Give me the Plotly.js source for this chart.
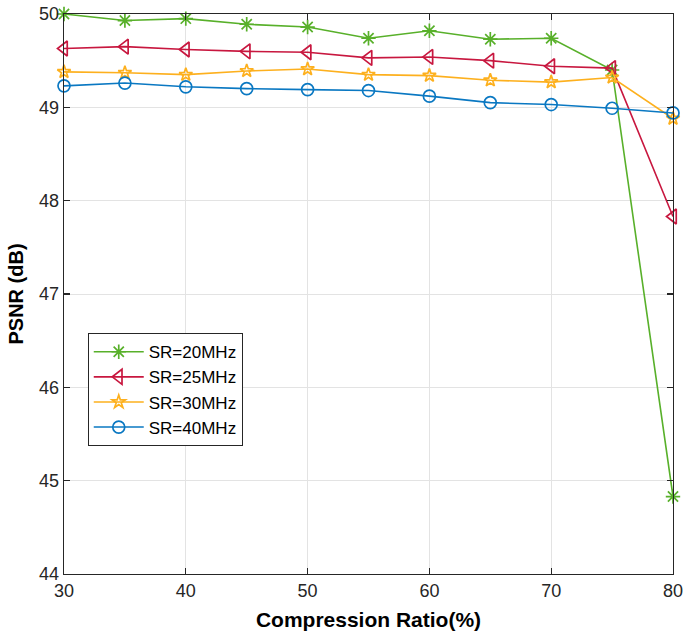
<!DOCTYPE html>
<html>
<head>
<meta charset="utf-8">
<script src="https://cdn.plot.ly/plotly-3.0.1.min.js"></script>
<style>html,body{margin:0;padding:0;background:#fff;}#chart{width:690px;height:642px;}</style>
</head>
<body>
<div id="chart"></div>
<script>
const compressionRatio = [30, 35, 40, 45, 50, 55, 60, 65, 70, 75, 80];
const sr20 = [50.00, 49.93, 49.95, 49.89, 49.86, 49.74, 49.82, 49.73, 49.74, 49.40, 44.83];
const sr25 = [49.63, 49.65, 49.62, 49.60, 49.59, 49.53, 49.54, 49.50, 49.44, 49.42, 47.83];
const sr30 = [49.38, 49.37, 49.35, 49.39, 49.41, 49.35, 49.34, 49.29, 49.27, 49.32, 48.88];
const sr40 = [49.23, 49.26, 49.22, 49.20, 49.19, 49.18, 49.12, 49.05, 49.03, 48.99, 48.94];
const seriesNames = ['SR=20MHz', 'SR=25MHz', 'SR=30MHz', 'SR=40MHz'];
const xTicks = [30, 40, 50, 60, 70, 80];
const yTicks = [44, 45, 46, 47, 48, 49, 50];

const colors = ['#58B02A', '#C8173F', '#FDB01E', '#0A78C2'];
const symbols = ['asterisk-open', 'triangle-left-open', 'star-open', 'circle-open'];
const sizes = [12, 13, 10, 12];
const ys = [sr20, sr25, sr30, sr40];

const traces = ys.map((y, i) => ({
  x: compressionRatio, y: y, name: seriesNames[i], type: 'scatter', mode: 'lines+markers',
  line: {color: colors[i], width: 1.6},
  marker: {symbol: symbols[i], size: sizes[i], color: colors[i], line: {color: colors[i], width: 1.7}},
  cliponaxis: false
}));

const fam = 'Liberation Sans, Arial, sans-serif';
const axisCommon = {
  showline: true, linecolor: '#262626', linewidth: 1.3, mirror: 'ticks',
  ticks: 'inside', ticklen: 6, tickwidth: 1.3, tickcolor: '#262626',
  showgrid: true, gridcolor: '#E3E3E3', gridwidth: 1, zeroline: false,
  tickfont: {family: fam, size: 18, color: '#262626'}
};

const layout = {
  width: 690, height: 642,
  margin: {l: 64, r: 17, t: 14, b: 68},
  paper_bgcolor: '#fff', plot_bgcolor: '#fff',
  showlegend: true,
  xaxis: Object.assign({}, axisCommon, {
    range: [30, 80], tickvals: xTicks, ticktext: xTicks.map(String),
    title: {text: '<b>Compression Ratio(%)</b>', font: {family: fam, size: 21, color: '#000'}, standoff: 12}
  }),
  yaxis: Object.assign({}, axisCommon, {
    range: [44, 50], tickvals: yTicks, ticktext: yTicks.map(String),
    title: {text: '<b>PSNR (dB)</b>', font: {family: fam, size: 20, color: '#000'}, standoff: 10}
  }),
  legend: {
    x: 0.039, y: 0.43, xanchor: 'left', yanchor: 'top',
    bgcolor: '#fff', bordercolor: '#262626', borderwidth: 1,
    font: {family: fam, size: 17, color: '#000'},
    tracegroupgap: 0, itemwidth: 50
  }
};

Plotly.newPlot('chart', traces, layout, {displayModeBar: false, staticPlot: true});
</script>
</body>
</html>
